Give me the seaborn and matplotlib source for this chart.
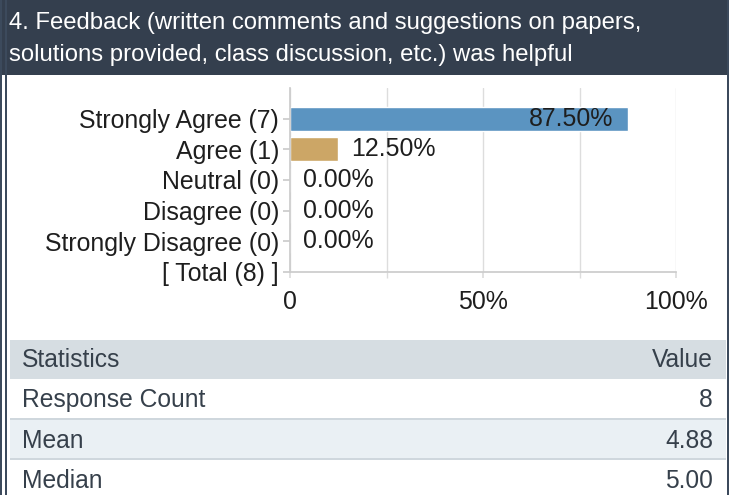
import matplotlib
matplotlib.use("Agg")
import matplotlib.pyplot as plt
import matplotlib.patches as mpatches
from matplotlib.ticker import FixedLocator
import pandas as pd
import seaborn as sns

title = "4. Feedback (written comments and suggestions on papers,\nsolutions provided, class discussion, etc.) was helpful"
categories = ["Strongly Agree (7)", "Agree (1)", "Neutral (0)", "Disagree (0)", "Strongly Disagree (0)"]
total_label = "[ Total (8) ]"
percents = [87.50, 12.50, 0.00, 0.00, 0.00]
bar_colors = ["#5b94c1", "#cca666", "#5b94c1", "#5b94c1", "#5b94c1"]
stat_names = ["Response Count", "Mean", "Median"]
stat_values = ["8", "4.88", "5.00"]

W, H = 736, 495
sns.set_theme(style="white")
plt.rcParams["font.family"] = ["Liberation Sans", "DejaVu Sans"]
text_col = "#1e1e1e"
table_col = "#36404b"
fs = 17.9

fig = plt.figure(figsize=(W / 100, H / 100), dpi=100)


def px_rect(x0, y0, x1, y1, color, z=0):
    fig.patches.append(mpatches.Rectangle((x0 / W, 1 - y1 / H), (x1 - x0) / W, (y1 - y0) / H,
                                          transform=fig.transFigure, color=color, zorder=z,
                                          linewidth=0))


# header and frame
px_rect(0, 0, 729, 75, "#343f4e")
px_rect(0, 0, 2, H, "#3c4a5c")
px_rect(5, 0, 7, H, "#3c4a5c")
px_rect(727, 0, 729, H, "#3c4a5c")
fig.text(9 / W, 1 - 39 / H, title, color="white", fontsize=17.2, va="center", ha="left",
         linespacing=1.6)

# bar chart
ax = fig.add_axes([290 / W, 1 - 272 / H, (676 - 290) / W, (272 - 88) / H])
df = pd.DataFrame({"label": categories, "pct": percents})
order = categories + [total_label]
sns.barplot(data=df, y="label", x="pct", order=order, hue="label", hue_order=categories,
            palette=bar_colors, saturation=1, legend=False, width=0.78, ax=ax, orient="h")
ax.set_xlim(0, 100)
ax.set_ylim(len(order) - 1, -1)
ax.xaxis.set_major_locator(FixedLocator([0, 50, 100]))
ax.xaxis.set_minor_locator(FixedLocator([25, 75]))
ax.set_xticklabels(["0", "50%", "100%"])
ax.grid(True, axis="x", which="both", color="#dddddd", linewidth=1)
ax.set_axisbelow(True)
ax.set_xlabel("")
ax.set_ylabel("")
for s in ["top", "right"]:
    ax.spines[s].set_visible(False)
ax.spines["left"].set_color("#cccccc")
ax.spines["bottom"].set_color("#cccccc")
ax.tick_params(axis="y", which="major", length=5, color="#cccccc", labelsize=fs,
               labelcolor=text_col, pad=3, left=True)
ax.tick_params(axis="x", which="both", length=4, color="#dddddd", labelsize=fs,
               labelcolor=text_col, pad=9, bottom=True)

for i, p in enumerate(percents):
    if p > 50:
        ax.annotate(f"{p:.2f}%", (p, i), xytext=(-15, 0), textcoords="offset pixels",
                    ha="right", va="center", fontsize=fs, color=text_col)
    else:
        ax.annotate(f"{p:.2f}%", (p, i), xytext=(13, 0), textcoords="offset pixels",
                    ha="left", va="center", fontsize=fs, color=text_col)

# statistics table
px_rect(10, 340, 726, 379, "#d6dde2")
px_rect(10, 379, 726, 418, "#ffffff")
px_rect(10, 418, 726, 420, "#cfd7dd")
px_rect(10, 420, 726, 458, "#eaf0f4")
px_rect(10, 458, 726, 460, "#cfd7dd")
rows = [("Statistics", "Value")] + list(zip(stat_names, stat_values))
for k, (name, val) in enumerate(rows):
    y = 1 - (360 + 40.3 * k) / H
    fig.text(22 / W, y, name, color=table_col, fontsize=17.7, va="center", ha="left")
    fig.text(713 / W, y, val, color=table_col, fontsize=17.7, va="center", ha="right")

fig.savefig("out.png", dpi=100)
